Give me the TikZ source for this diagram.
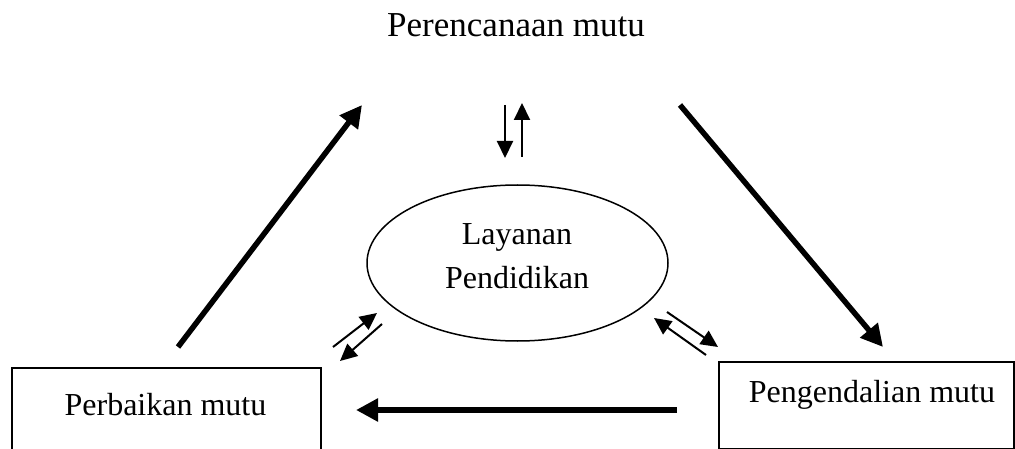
\documentclass[tikz,border=0pt]{standalone}
\usepackage{fontspec}
\setmainfont{Liberation Serif}
\usetikzlibrary{arrows.meta,shapes.geometric}
\begin{document}
\begin{tikzpicture}[x=1pt,y=-1pt,
  label text/.style={font=\fontsize{32}{40}\selectfont,anchor=base,inner sep=0pt},
  title text/.style={font=\fontsize{35}{42}\selectfont,anchor=base,inner sep=0pt},
  stagebox/.style={draw,line width=2pt,rectangle,anchor=north west,inner sep=0pt},
  bigarrow/.style={line width=5.5pt,-{Triangle[length=22pt,width=22pt]}},
  smallarrow/.style={line width=2pt,-{Triangle[length=17pt,width=16pt]}}
]
\useasboundingbox (0,0) rectangle (1015,449);

% title and centre ellipse
\node[title text] (plan) at (516,37) {Perencanaan mutu};
\node[draw,ellipse,line width=1.5pt,minimum width=301pt,minimum height=156pt,inner sep=0pt] (svc) at (517.5,263) {};
\node[label text] (svc1) at (517,245) {Layanan};
\node[label text] (svc2) at (517,288) {Pendidikan};

% the two lower boxes
\node[stagebox,minimum width=309pt,minimum height=110pt] (fixbox) at (11,367) {};
\node[label text] (fix) at (165.5,415) {Perbaikan mutu};
\node[stagebox,minimum width=295pt,minimum height=87pt] (ctlbox) at (718,361) {};
\node[label text] (ctl) at (872,402) {Pengendalian mutu};

% arrow end points
\coordinate (a1s) at (178,347); \coordinate (a1e) at (362,105);
\coordinate (a2s) at (680,105); \coordinate (a2e) at (883,347);
\coordinate (a3s) at (677,410); \coordinate (a3e) at (356,410);
\coordinate (v1s) at (505,105); \coordinate (v1e) at (505,158);
\coordinate (v2s) at (522,157); \coordinate (v2e) at (522,103);
\coordinate (l1s) at (333,347); \coordinate (l1e) at (377,313);
\coordinate (l2s) at (382,324); \coordinate (l2e) at (340,361);
\coordinate (r1s) at (667,312); \coordinate (r1e) at (718,347);
\coordinate (r2s) at (706,355); \coordinate (r2e) at (654,318);

% main cycle
\draw[bigarrow] (a1s) -- (a1e);
\draw[bigarrow] (a2s) -- (a2e);
\draw[bigarrow] (a3s) -- (a3e);

% exchanges with the centre
\draw[smallarrow] (v1s) -- (v1e);
\draw[smallarrow] (v2s) -- (v2e);
\draw[smallarrow] (l1s) -- (l1e);
\draw[smallarrow] (l2s) -- (l2e);
\draw[smallarrow] (r1s) -- (r1e);
\draw[smallarrow] (r2s) -- (r2e);
\end{tikzpicture}
\end{document}
